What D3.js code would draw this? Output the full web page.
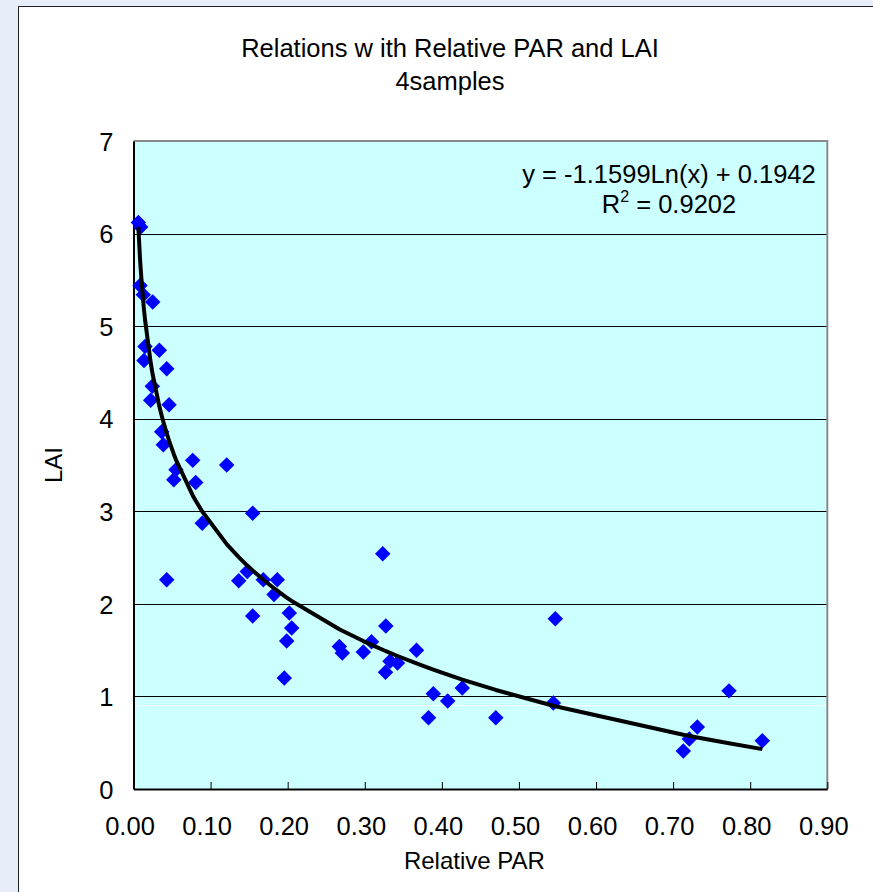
<!DOCTYPE html>
<meta charset="utf-8">
<style>
    body{ margin:0; background:#e8eef9; }
    svg{ display:block; font-family:"Liberation Sans", Arial, sans-serif; }
</style>
<body>
<div id="chart"></div>
<script src="https://cdn.jsdelivr.net/npm/d3@7/dist/d3.min.js"></script>
<script>

// Relative PAR (x) and LAI (y)
var relPar = [0.0063, 0.0093, 0.0084, 0.0127, 0.0249, 0.0149, 0.0335, 0.0136, 0.0431, 0.0244,
              0.0223, 0.0461, 0.0366, 0.0387, 0.0768, 0.0551, 0.0523, 0.0807, 0.1209, 0.0892,
              0.1546, 0.0431, 0.1365, 0.1476, 0.1684, 0.1865, 0.1823, 0.1546, 0.2021, 0.2052,
              0.1987, 0.1956, 0.2670, 0.2709, 0.2981, 0.3087, 0.3233, 0.3273, 0.3327, 0.3425,
              0.3269, 0.3671, 0.3889, 0.4076, 0.4265, 0.3827, 0.4700, 0.5472, 0.5446, 0.7132,
              0.7210, 0.7314, 0.7725, 0.8157];
var lai    = [6.12, 6.07, 5.44, 5.34, 5.26, 4.78, 4.74, 4.63, 4.54, 4.35,
              4.20, 4.15, 3.86, 3.72, 3.55, 3.45, 3.34, 3.31, 3.50, 2.87,
              2.98, 2.26, 2.25, 2.35, 2.26, 2.26, 2.10, 1.87, 1.90, 1.74,
              1.60, 1.20, 1.54, 1.47, 1.48, 1.59, 2.54, 1.76, 1.38, 1.36,
              1.26, 1.50, 1.03, 0.95, 1.09, 0.77, 0.77, 1.84, 0.93, 0.41,
              0.54, 0.67, 1.06, 0.52];

// log trendline as printed on the chart
var trendA = -1.1599, trendB = 0.1942, trendR2 = 0.9202;

var xTicks = [0, 0.1, 0.2, 0.3, 0.4, 0.5, 0.6, 0.7, 0.8, 0.9];
var yTicks = [0, 1, 2, 3, 4, 5, 6, 7];

var titleLines = ["Relations w ith Relative PAR and LAI", "4samples"];
var xTitle = "Relative PAR", yTitle = "LAI";

var W = 873, H = 892, FS = 25.5;
var svg = d3.select("#chart").append("svg").attr("width", W).attr("height", H);

// white chart panel
svg.append("rect")
    .attr("x", 18.5).attr("y", 6.5)
    .attr("width", W).attr("height", H)
    .attr("fill", "#fff").attr("stroke", "#222").attr("stroke-width", 1);

var x = d3.scaleLinear().domain([0, 0.9]).range([133.5, 827.3]);
var y = d3.scaleLinear().domain([0, 7]).range([789, 141]);

// plot area
svg.append("rect")
    .attr("x", x(0)).attr("y", y(7))
    .attr("width", x(0.9) - x(0)).attr("height", y(0) - y(7))
    .attr("fill", "#ccffff");

// gridlines
svg.append("g").selectAll("line")
    .data(yTicks.filter(function(d){ return d > 0 && d < 7; }))
  .enter().append("line")
    .attr("x1", x(0)).attr("x2", x(0.9))
    .attr("y1", function(d){ return Math.round(y(d)) + 0.5; })
    .attr("y2", function(d){ return Math.round(y(d)) + 0.5; })
    .attr("stroke", "#000").attr("stroke-width", 1);

// stray white line seen just under 1
svg.append("line")
    .attr("x1", x(0)).attr("x2", x(0.9))
    .attr("y1", y(0.9)).attr("y2", y(0.9))
    .attr("stroke", "#fff").attr("stroke-width", 1);

// top / right frame
svg.append("path")
    .attr("d", "M" + x(0) + "," + y(7) + "H" + x(0.9) + "V" + y(0))
    .attr("fill", "none").attr("stroke", "#8a8a8a").attr("stroke-width", 2);

// x axis
var xAxis = svg.append("g")
    .attr("transform", "translate(0," + y(0) + ")")
    .call(d3.axisBottom(x).tickValues(xTicks).tickSize(-7).tickPadding(0)
        .tickFormat(d3.format(".2f")).tickSizeOuter(0));
xAxis.select(".domain").attr("stroke", "#000").attr("stroke-width", 2);
xAxis.selectAll(".tick line").attr("stroke", "#000");
xAxis.selectAll(".tick text")
    .attr("fill", "#000").attr("font-size", FS)
    .attr("dx", -4).attr("y", 46).attr("dy", 0);

// y axis
var yAxis = svg.append("g")
    .attr("transform", "translate(" + x(0) + ",0)")
    .call(d3.axisLeft(y).tickValues(yTicks).tickSize(0).tickPadding(20)
        .tickFormat(d3.format("d")).tickSizeOuter(0));
yAxis.select(".domain").attr("stroke", "#000").attr("stroke-width", 2);
yAxis.selectAll(".tick text")
    .attr("fill", "#000").attr("font-size", FS).attr("dy", "0.36em");

// trendline, evaluated at the sorted x values
var trendX = relPar.slice().sort(d3.ascending);
var line = d3.line()
    .x(function(d){ return x(d); })
    .y(function(d){ return y(trendA * Math.log(d) + trendB); });

// points
svg.append("g").selectAll("path")
    .data(d3.range(relPar.length))
  .enter().append("path")
    .attr("d", d3.symbol(d3.symbolSquare, 120))
    .attr("transform", function(i){
        return "translate(" + x(relPar[i]) + "," + y(lai[i]) + ") rotate(45)";
    })
    .attr("fill", "#0000ff");

svg.append("path")
    .datum(trendX)
    .attr("fill", "none")
    .attr("stroke", "#000")
    .attr("stroke-width", 4)
    .attr("stroke-linejoin", "round")
    .attr("d", line);

// equation
svg.append("text")
    .attr("x", 669).attr("y", 183)
    .attr("text-anchor", "middle").attr("font-size", FS)
    .text("y = " + trendA + "Ln(x) + " + trendB);
var r2 = svg.append("text")
    .attr("x", 669).attr("y", 213)
    .attr("text-anchor", "middle").attr("font-size", FS);
r2.append("tspan").text("R");
r2.append("tspan").attr("font-size", 16).attr("dy", -11).text("2");
r2.append("tspan").attr("dy", 11).text(" = " + trendR2);

// titles
svg.selectAll(".title")
    .data(titleLines)
  .enter().append("text")
    .attr("class", "title")
    .attr("x", 450).attr("y", function(d, i){ return 57 + i * 33; })
    .attr("text-anchor", "middle").attr("font-size", FS)
    .text(function(d){ return d; });

svg.append("text")
    .attr("x", (x(0) + x(0.9)) / 2 - 6).attr("y", 869)
    .attr("text-anchor", "middle").attr("font-size", 24)
    .text(xTitle);

svg.append("text")
    .attr("transform", "translate(62," + (y(0) + y(7)) / 2 + ") rotate(-90)")
    .attr("text-anchor", "middle").attr("font-size", 24)
    .text(yTitle);

</script>
